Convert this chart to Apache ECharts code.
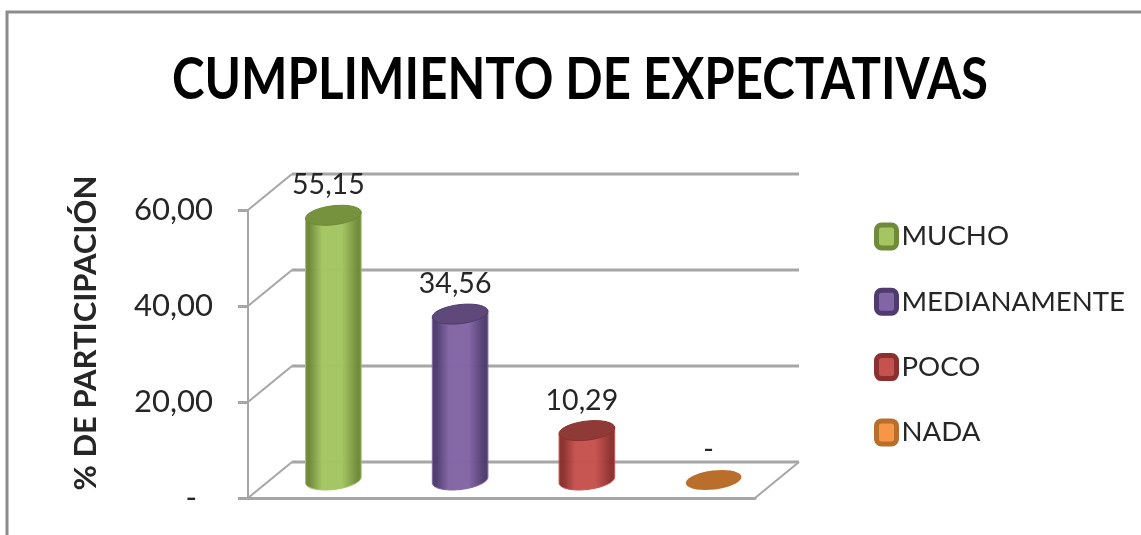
<!DOCTYPE html>
<html><head><meta charset="utf-8">
<style>html,body{margin:0;padding:0;background:#fff}#c{width:1141px;height:535px}</style>
<script src="https://cdn.jsdelivr.net/npm/echarts@6/dist/echarts.min.js"></script>
</head><body><div id="c"></div>
<script>
const chartTitle = 'CUMPLIMIENTO DE EXPECTATIVAS';
const categories = ['MUCHO','MEDIANAMENTE','POCO','NADA'];
const values = [55.15, 34.56, 10.29, 0];
const gridTicks = [0, 20, 40, 60];
const midColors = ['#a4c561','#8265a5','#c6524f','#f79646'];
const edgeColors = ['#6f8a38','#4f3b6e','#8b302e','#b96f2b'];
const topColors = ['#76923c','#5f497a','#8f3a37','#b96f2b'];

const DX = 44, DY = -36, BAR_RX = 28, BAR_RY = 9.5, TILT = -0.12;
const FONT = 'Lato', INK = '#262626', GRAY = '#a6a6a6';
const fmt = v => v === 0 ? '-' : v.toFixed(2).replace('.', ',');
const fmtAxis = v => v === 0 ? '-  ' : fmt(v);

function ellipsePts(cx, cy, from, to) {
  const pts = [];
  for (let i = 0; i <= 36; i++) {
    const t = from + (to - from) * i / 36;
    const x = BAR_RX * Math.cos(t), y = BAR_RY * Math.sin(t);
    pts.push([cx + x * Math.cos(TILT) - y * Math.sin(TILT), cy + x * Math.sin(TILT) + y * Math.cos(TILT)]);
  }
  return pts;
}

function renderWall(params, api) {
  const v = api.value(0);
  const a = api.coord([0, v]), last = api.coord([categories.length - 1, v]);
  const band = api.size([1, 0])[0];
  const x0 = last[0] + band / 2, x1 = a[0] - band / 2;
  const children = [
    {type:'polyline', shape:{points:[[x1, a[1]], [x1 + DX, a[1] + DY]]}, style:{stroke:GRAY, lineWidth:2, fill:null}},
    {type:'line', shape:{x1:x1 + DX, y1:a[1] + DY, x2:x0 + DX, y2:a[1] + DY}, style:{stroke:GRAY, lineWidth:3}}
  ];
  if (v === 0) children.push({type:'line', shape:{x1:x0, y1:a[1], x2:x0 + DX, y2:a[1] + DY}, style:{stroke:GRAY, lineWidth:2}});
  return {type:'group', children};
}

function renderCylinder(idx) {
  return function (params, api) {
    const v = api.value(1);
    const top = api.coord([api.value(0), v]), base = api.coord([api.value(0), 0]);
    const cx = top[0] + DX / 2, ty = top[1] + DY / 2, by = base[1] + DY / 2;
    const children = [];
    if (v > 0) {
      const pts = [ellipsePts(cx, ty, Math.PI, Math.PI)[0], ellipsePts(cx, ty, 0, 0)[0]]
        .concat(ellipsePts(cx, by, 0, Math.PI));
      children.push({type:'polygon', shape:{points:pts}, style:{
        fill:{type:'linear', x:0, y:0, x2:1, y2:0, colorStops:[
          {offset:0, color:edgeColors[idx]}, {offset:0.08, color:edgeColors[idx]},
          {offset:0.3, color:midColors[idx]}, {offset:0.65, color:midColors[idx]},
          {offset:0.93, color:edgeColors[idx]}, {offset:1, color:edgeColors[idx]}]},
        stroke:midColors[idx], lineWidth:1, opacity:0.98}});
    }
    children.push({type:'polygon', shape:{points:ellipsePts(cx, ty, 0, Math.PI * 2)},
      style:{fill:topColors[idx], stroke:v > 0 ? edgeColors[idx] : null, lineWidth:1}});
    children.push({type:'text', x:cx - 5, y:ty - 30, style:{text:fmt(v), font:'28.5px ' + FONT, fill:INK, align:'center', verticalAlign:'middle'}});
    return {type:'group', children};
  };
}

const series = [{
  name:'wall', type:'custom', silent:true, z:1, clip:false,
  data:gridTicks.map(t => [t]), encode:{y:0}, renderItem:renderWall
}].concat(categories.map((name, i) => ({
  name, type:'custom', z:3 + i, clip:false,
  itemStyle:{color:midColors[i]},
  data:[[i, values[i]]], encode:{x:0, y:1}, renderItem:renderCylinder(i)
})));

const chart = echarts.init(document.getElementById('c'));
chart.setOption({
  animation:false,
  backgroundColor:'#ffffff',
  grid:{left:248, right:386, top:210, height:288},
  xAxis:{type:'category', data:categories, axisLabel:{show:false}, axisTick:{show:false},
    axisLine:{lineStyle:{color:GRAY, width:3}}, splitLine:{show:false}},
  yAxis:{type:'value', min:0, max:60, interval:20,
    name:'% DE PARTICIPACIÓN', nameLocation:'middle', nameRotate:90, nameGap:147,
    nameTextStyle:{fontFamily:FONT, fontWeight:'bold', fontSize:31, color:INK, padding:[0,0,0,42]},
    axisLine:{show:true, lineStyle:{color:GRAY, width:2}},
    axisTick:{show:true, length:10, lineStyle:{color:GRAY, width:3}},
    axisLabel:{formatter:fmtAxis, fontFamily:FONT, fontSize:31, color:INK, margin:35, padding:[6,0,0,0]},
    splitLine:{show:false}},
  legend:{orient:'vertical', left:874, top:222.5, padding:0, itemWidth:20, itemHeight:23, itemGap:37.3, itemTextGap:6,
    icon:'roundRect', selectedMode:false,
    textStyle:{fontFamily:FONT, fontSize:27.6, color:INK},
    data:categories.map((name, i) => ({name, itemStyle:{color:midColors[i], borderColor:edgeColors[i], borderWidth:5}}))},
  graphic:[
    {type:'polyline', shape:{points:[[7,535],[7,12],[1141,12]]}, style:{stroke:'#8c8c8c', lineWidth:3, fill:null}, silent:true},
    {type:'text', x:580, y:80, scaleX:0.848, silent:true,
     style:{text:chartTitle, font:'bold 58px ' + FONT, fill:'#000', align:'center', verticalAlign:'middle'}}
  ],
  series
});
</script></body></html>
